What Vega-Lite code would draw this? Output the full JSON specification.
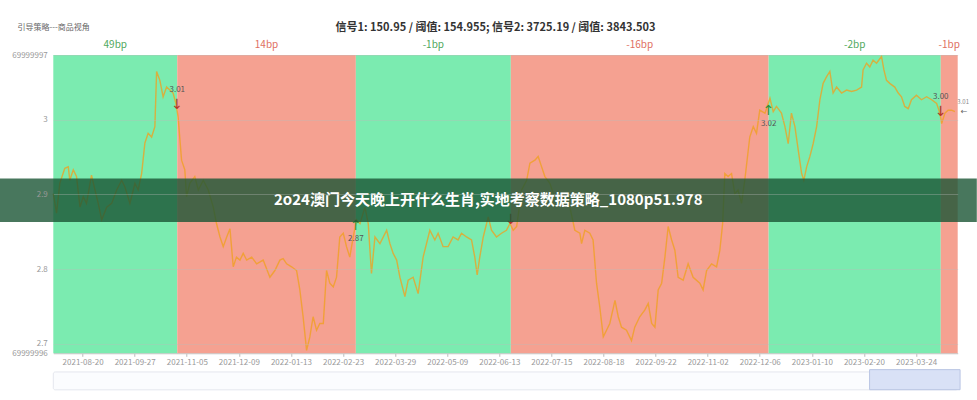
{
  "$schema": "https://vega.github.io/schema/vega-lite/v6.json",
  "width": 904.4,
  "height": 298.3,
  "autosize": {"type": "none"},
  "padding": {"left": 53.3, "top": 55, "right": 19.3, "bottom": 46.7},
  "background": "#ffffff",
  "config": {"view": {"stroke": null}, "font": "Noto Sans CJK SC"},
  "title": {
    "text": "信号1: 150.95 / 阈值: 154.955; 信号2: 3725.19 / 阈值: 3843.503",
    "anchor": "middle", "frame": "group", "fontSize": 11, "fontWeight": "bold",
    "color": "#333333", "offset": -10, "dx": -10, "font": "Noto Sans CJK SC"
  },
  "datasets": {
    "bands": [
      {"start": -13.5, "end": 43.6, "label": "49bp", "kind": "up"},
      {"start": 43.6, "end": 125.9, "label": "14bp", "kind": "down"},
      {"start": 125.9, "end": 197.3, "label": "-1bp", "kind": "up"},
      {"start": 197.3, "end": 316.1, "label": "-16bp", "kind": "down"},
      {"start": 316.1, "end": 395.4, "label": "-2bp", "kind": "up"},
      {"start": 395.4, "end": 403.2, "label": "-1bp", "kind": "down"}
    ],
    "signals": [
      {"t": 43.6, "v": 3.015, "label": "3.01", "side": "sell"},
      {"t": 125.9, "v": 2.866, "label": "2.87", "side": "buy"},
      {"t": 197.3, "v": 2.86, "label": null, "side": "sell"},
      {"t": 316.1, "v": 3.02, "label": "3.02", "side": "buy"},
      {"t": 395.4, "v": 3.005, "label": "3.00", "side": "sell"}
    ],
    "last": [{"t": 403.2, "v": 3.0105, "label": "3.01"}],
    "series": [
      {"t":-13.5,"v":2.901},{"t":-12.0,"v":2.875},{"t":-10.5,"v":2.915},{"t":-8.2,"v":2.935},{"t":-6.6,"v":2.937},
      {"t":-5.9,"v":2.919},{"t":-4.3,"v":2.933},{"t":-2.8,"v":2.924},{"t":-1.2,"v":2.883},{"t":0.3,"v":2.897},
      {"t":1.8,"v":2.888},{"t":4.1,"v":2.926},{"t":5.7,"v":2.906},{"t":7.2,"v":2.888},{"t":8.8,"v":2.866},
      {"t":11.1,"v":2.883},{"t":13.4,"v":2.888},{"t":15.7,"v":2.906},{"t":18.0,"v":2.919},{"t":19.5,"v":2.91},
      {"t":21.8,"v":2.888},{"t":24.1,"v":2.915},{"t":25.6,"v":2.906},{"t":27.2,"v":2.928},{"t":28.7,"v":2.969},
      {"t":30.2,"v":2.982},{"t":31.8,"v":2.977},{"t":33.3,"v":2.991},{"t":34.1,"v":3.065},{"t":35.6,"v":3.053},
      {"t":37.1,"v":3.031},{"t":38.7,"v":3.044},{"t":40.2,"v":3.04},{"t":41.7,"v":3.036},{"t":43.0,"v":3.022},
      {"t":44.0,"v":3.004},{"t":45.6,"v":2.946},{"t":47.1,"v":2.933},{"t":47.9,"v":2.897},{"t":49.4,"v":2.915},
      {"t":51.7,"v":2.924},{"t":53.3,"v":2.906},{"t":55.6,"v":2.919},{"t":57.9,"v":2.906},{"t":60.2,"v":2.883},
      {"t":61.7,"v":2.861},{"t":63.3,"v":2.843},{"t":64.8,"v":2.83},{"t":66.4,"v":2.843},{"t":67.9,"v":2.854},
      {"t":69.4,"v":2.803},{"t":70.9,"v":2.816},{"t":72.5,"v":2.812},{"t":74.0,"v":2.821},{"t":75.6,"v":2.812},
      {"t":77.9,"v":2.816},{"t":80.2,"v":2.807},{"t":83.2,"v":2.812},{"t":86.3,"v":2.789},{"t":88.6,"v":2.798},
      {"t":90.9,"v":2.812},{"t":92.4,"v":2.814},{"t":94.0,"v":2.807},{"t":96.3,"v":2.803},{"t":98.6,"v":2.798},
      {"t":100.1,"v":2.772},{"t":101.6,"v":2.736},{"t":103.2,"v":2.691},{"t":104.7,"v":2.709},{"t":106.2,"v":2.736},
      {"t":107.8,"v":2.718},{"t":109.3,"v":2.727},{"t":110.9,"v":2.727},{"t":112.4,"v":2.798},{"t":113.9,"v":2.781},
      {"t":115.5,"v":2.776},{"t":117.0,"v":2.789},{"t":118.5,"v":2.843},{"t":120.1,"v":2.848},{"t":121.6,"v":2.83},
      {"t":123.1,"v":2.816},{"t":124.7,"v":2.843},{"t":126.2,"v":2.866},{"t":127.8,"v":2.861},{"t":130.1,"v":2.883},
      {"t":131.6,"v":2.861},{"t":133.1,"v":2.794},{"t":134.7,"v":2.843},{"t":137.0,"v":2.834},{"t":140.1,"v":2.852},
      {"t":141.6,"v":2.834},{"t":143.1,"v":2.821},{"t":144.7,"v":2.812},{"t":146.2,"v":2.789},{"t":148.5,"v":2.763},
      {"t":150.0,"v":2.785},{"t":152.3,"v":2.789},{"t":154.6,"v":2.767},{"t":156.9,"v":2.816},{"t":160.0,"v":2.852},
      {"t":162.3,"v":2.839},{"t":163.8,"v":2.848},{"t":166.1,"v":2.83},{"t":168.4,"v":2.83},{"t":170.7,"v":2.843},
      {"t":173.0,"v":2.839},{"t":174.6,"v":2.848},{"t":176.9,"v":2.843},{"t":179.2,"v":2.839},{"t":180.7,"v":2.816},
      {"t":181.8,"v":2.792},{"t":183.0,"v":2.816},{"t":184.6,"v":2.843},{"t":186.9,"v":2.87},{"t":188.4,"v":2.852},
      {"t":190.7,"v":2.843},{"t":193.0,"v":2.848},{"t":195.3,"v":2.852},{"t":196.9,"v":2.861},{"t":198.4,"v":2.852},
      {"t":200.0,"v":2.857},{"t":202.3,"v":2.906},{"t":204.6,"v":2.919},{"t":206.1,"v":2.942},{"t":208.4,"v":2.946},
      {"t":209.9,"v":2.951},{"t":211.5,"v":2.937},{"t":213.0,"v":2.924},{"t":215.3,"v":2.915},{"t":217.6,"v":2.895},
      {"t":219.9,"v":2.899},{"t":222.2,"v":2.892},{"t":224.5,"v":2.883},{"t":226.8,"v":2.852},{"t":229.1,"v":2.848},
      {"t":229.9,"v":2.834},{"t":231.4,"v":2.852},{"t":233.7,"v":2.848},{"t":235.2,"v":2.839},{"t":236.8,"v":2.781},
      {"t":238.3,"v":2.749},{"t":239.9,"v":2.709},{"t":241.4,"v":2.718},{"t":242.9,"v":2.727},{"t":245.3,"v":2.758},
      {"t":246.8,"v":2.736},{"t":248.3,"v":2.722},{"t":250.6,"v":2.718},{"t":252.9,"v":2.704},{"t":254.4,"v":2.722},
      {"t":256.7,"v":2.736},{"t":259.0,"v":2.745},{"t":260.6,"v":2.754},{"t":262.2,"v":2.727},{"t":263.7,"v":2.722},
      {"t":265.2,"v":2.772},{"t":266.8,"v":2.781},{"t":268.3,"v":2.816},{"t":269.8,"v":2.857},{"t":271.4,"v":2.839},
      {"t":272.9,"v":2.825},{"t":274.4,"v":2.789},{"t":276.7,"v":2.785},{"t":279.0,"v":2.807},{"t":281.3,"v":2.789},
      {"t":284.4,"v":2.781},{"t":285.9,"v":2.772},{"t":287.5,"v":2.798},{"t":289.8,"v":2.807},{"t":292.1,"v":2.803},
      {"t":293.6,"v":2.825},{"t":294.9,"v":2.861},{"t":295.9,"v":2.928},{"t":297.4,"v":2.924},{"t":299.0,"v":2.928},
      {"t":300.5,"v":2.901},{"t":302.0,"v":2.906},{"t":303.6,"v":2.888},{"t":305.1,"v":2.919},{"t":307.4,"v":2.977},
      {"t":309.0,"v":2.991},{"t":310.5,"v":2.982},{"t":312.0,"v":3.013},{"t":314.4,"v":3.009},{"t":316.7,"v":3.029},
      {"t":318.2,"v":3.011},{"t":319.7,"v":3.018},{"t":322.0,"v":3.009},{"t":323.6,"v":2.991},{"t":325.1,"v":2.968},
      {"t":326.6,"v":3.009},{"t":328.2,"v":2.991},{"t":329.7,"v":2.96},{"t":331.3,"v":2.928},{"t":332.3,"v":2.919},
      {"t":333.6,"v":2.937},{"t":335.1,"v":2.951},{"t":336.6,"v":2.968},{"t":338.2,"v":2.991},{"t":339.7,"v":3.027},
      {"t":341.2,"v":3.049},{"t":342.8,"v":3.058},{"t":344.3,"v":3.065},{"t":345.8,"v":3.036},{"t":347.4,"v":3.044},
      {"t":349.7,"v":3.036},{"t":352.0,"v":3.04},{"t":354.3,"v":3.038},{"t":356.6,"v":3.04},{"t":358.9,"v":3.044},
      {"t":359.6,"v":3.067},{"t":361.2,"v":3.076},{"t":362.7,"v":3.071},{"t":364.2,"v":3.08},{"t":365.8,"v":3.076},
      {"t":368.1,"v":3.085},{"t":369.2,"v":3.067},{"t":370.4,"v":3.053},{"t":371.9,"v":3.049},{"t":374.2,"v":3.044},
      {"t":375.8,"v":3.036},{"t":377.3,"v":3.031},{"t":378.8,"v":3.018},{"t":380.4,"v":3.015},{"t":381.9,"v":3.027},
      {"t":384.2,"v":3.033},{"t":386.5,"v":3.027},{"t":388.9,"v":3.031},{"t":391.2,"v":3.027},{"t":393.5,"v":3.022},
      {"t":395.0,"v":3.009},{"t":395.8,"v":2.995},{"t":397.3,"v":3.009},{"t":398.8,"v":3.013},{"t":400.4,"v":3.013},
      {"t":401.9,"v":3.011}
    ]
  },
  "layer": [
    {
      "data": {"name": "bands"},
      "mark": {"type": "rect"},
      "encoding": {
        "x": {"field": "start", "type": "quantitative",
          "scale": {"domain": [-13.5, 403.2], "nice": false, "zero": false},
          "axis": {
            "values": [0, 24, 48, 72, 96, 120, 144, 168, 192, 216, 240, 264, 288, 312, 336, 360, 384],
            "labelExpr": "['2021-08-20','2021-09-27','2021-11-05','2021-12-09','2022-01-13','2022-02-23','2022-03-29','2022-05-09','2022-06-13','2022-07-15','2022-08-18','2022-09-22','2022-11-02','2022-12-06','2023-01-10','2023-02-20','2023-03-24'][round(datum.value/24)]",
            "title": null, "grid": false, "domainColor": "#cccccc", "tickColor": "#bbbbbb", "tickSize": 3,
            "labelFontSize": 8, "labelColor": "#999999", "labelPadding": 2, "labelOverlap": false, "labelFlush": false
          }},
        "x2": {"field": "end"},
        "color": {"condition": {"test": "datum.kind == 'up'", "value": "#7BEBB0"}, "value": "#F5A191"}
      }
    },
    {
      "data": {"name": "bands"},
      "transform": [{"calculate": "(datum.start + datum.end) / 2", "as": "mid"}],
      "mark": {"type": "text", "fontSize": 10, "baseline": "middle"},
      "encoding": {
        "x": {"field": "mid", "type": "quantitative",
          "scale": {"domain": [-13.5, 403.2], "nice": false, "zero": false}},
        "y": {"datum": 3.1, "type": "quantitative",
          "scale": {"domain": [2.687, 3.087], "nice": false, "zero": false}},
        "text": {"field": "label"},
        "color": {"condition": {"test": "datum.kind == 'up'", "value": "#4FA85C"}, "value": "#E0705F"}
      }
    },
    {
      "data": {"name": "series"},
      "mark": {"type": "line", "color": "#F0A020", "opacity": 0.78, "strokeWidth": 1.4},
      "encoding": {
        "x": {"field": "t", "type": "quantitative",
          "scale": {"domain": [-13.5, 403.2], "nice": false, "zero": false}},
        "y": {"field": "v", "type": "quantitative",
          "scale": {"domain": [2.687, 3.087], "nice": false, "zero": false},
          "axis": {
            "values": [2.687, 2.7, 2.8, 2.9, 3, 3.087],
            "labelExpr": "datum.value == 2.687 ? '69999996' : datum.value == 3.087 ? '69999997' : '' + datum.value",
            "title": "引导策略---商品视角", "titleAngle": 0, "titleAlign": "left", "titleBaseline": "middle",
            "titleX": -36.3, "titleY": -28, "titleFontSize": 8, "titleFontWeight": "normal", "titleColor": "#666666",
            "domain": false, "ticks": false, "labelFontSize": 8, "labelColor": "#999999", "labelPadding": 6,
            "labelOverlap": false, "labelBound": false, "labelFlush": false,
            "grid": true, "gridColor": "#bbbbbb", "gridOpacity": 0.35, "zindex": 1
          }}
      }
    },
    {
      "data": {"name": "signals"},
      "transform": [{"filter": "datum.side == 'sell'"}],
      "mark": {"type": "text", "text": "↓", "font": "DejaVu Sans", "fontSize": 14, "baseline": "alphabetic", "color": "#B83227"},
      "encoding": {
        "x": {"field": "t", "type": "quantitative", "scale": {"domain": [-13.5, 403.2], "nice": false, "zero": false}},
        "y": {"field": "v", "type": "quantitative", "scale": {"domain": [2.687, 3.087], "nice": false, "zero": false}}
      }
    },
    {
      "data": {"name": "signals"},
      "transform": [{"filter": "datum.side == 'sell' && datum.label != null"}],
      "mark": {"type": "text", "fontSize": 8, "baseline": "middle", "dy": -19, "color": "#555555"},
      "encoding": {
        "x": {"field": "t", "type": "quantitative", "scale": {"domain": [-13.5, 403.2], "nice": false, "zero": false}},
        "y": {"field": "v", "type": "quantitative", "scale": {"domain": [2.687, 3.087], "nice": false, "zero": false}},
        "text": {"field": "label"}
      }
    },
    {
      "data": {"name": "signals"},
      "transform": [{"filter": "datum.side == 'buy'"}],
      "mark": {"type": "text", "text": "↑", "font": "DejaVu Sans", "fontSize": 14, "baseline": "alphabetic", "dy": 10, "color": "#2F8F3A"},
      "encoding": {
        "x": {"field": "t", "type": "quantitative", "scale": {"domain": [-13.5, 403.2], "nice": false, "zero": false}},
        "y": {"field": "v", "type": "quantitative", "scale": {"domain": [2.687, 3.087], "nice": false, "zero": false}}
      }
    },
    {
      "data": {"name": "signals"},
      "transform": [{"filter": "datum.side == 'buy'"}],
      "mark": {"type": "text", "fontSize": 8, "baseline": "middle", "dy": 19, "color": "#555555"},
      "encoding": {
        "x": {"field": "t", "type": "quantitative", "scale": {"domain": [-13.5, 403.2], "nice": false, "zero": false}},
        "y": {"field": "v", "type": "quantitative", "scale": {"domain": [2.687, 3.087], "nice": false, "zero": false}},
        "text": {"field": "label"}
      }
    },
    {
      "data": {"name": "last"},
      "mark": {"type": "text", "fontSize": 6, "baseline": "middle", "dx": 5.5, "dy": -10, "color": "#888888"},
      "encoding": {
        "x": {"field": "t", "type": "quantitative", "scale": {"domain": [-13.5, 403.2], "nice": false, "zero": false}},
        "y": {"field": "v", "type": "quantitative", "scale": {"domain": [2.687, 3.087], "nice": false, "zero": false}},
        "text": {"field": "label"}
      }
    },
    {
      "data": {"name": "last"},
      "mark": {"type": "text", "text": "←", "font": "DejaVu Sans", "fontSize": 8, "baseline": "middle", "dx": 6.5, "color": "#666666"},
      "encoding": {
        "x": {"field": "t", "type": "quantitative", "scale": {"domain": [-13.5, 403.2], "nice": false, "zero": false}},
        "y": {"field": "v", "type": "quantitative", "scale": {"domain": [2.687, 3.087], "nice": false, "zero": false}}
      }
    },
    {
      "data": {"values": [{"part": "track"}]},
      "mark": {"type": "rect", "fill": "#fbfcfe", "stroke": "#e4e7ee", "strokeWidth": 1, "cornerRadius": 2},
      "encoding": {
        "x": {"datum": -13.5, "type": "quantitative", "scale": {"domain": [-13.5, 403.2], "nice": false, "zero": false}},
        "x2": {"datum": 403.2},
        "y": {"datum": 2.662, "type": "quantitative", "scale": {"domain": [2.687, 3.087], "nice": false, "zero": false}},
        "y2": {"datum": 2.638}
      }
    },
    {
      "data": {"values": [{"part": "window"}]},
      "mark": {"type": "rect", "fill": "#d9e1f6", "stroke": "#b9c5e3", "strokeWidth": 1},
      "encoding": {
        "x": {"datum": 362.6, "type": "quantitative", "scale": {"domain": [-13.5, 403.2], "nice": false, "zero": false}},
        "x2": {"datum": 404.3},
        "y": {"datum": 2.6651, "type": "quantitative", "scale": {"domain": [2.687, 3.087], "nice": false, "zero": false}},
        "y2": {"datum": 2.6382}
      }
    },
    {
      "data": {"values": [{"caption": "2o24澳门今天晚上开什么生肖,实地考察数据策略_1080p51.978"}]},
      "mark": {"type": "rect", "fill": "#1A5534", "opacity": 0.8},
      "encoding": {
        "x": {"datum": -38.1, "type": "quantitative", "scale": {"domain": [-13.5, 403.2], "nice": false, "zero": false}},
        "x2": {"datum": 412.0},
        "y": {"datum": 2.9215, "type": "quantitative", "scale": {"domain": [2.687, 3.087], "nice": false, "zero": false}},
        "y2": {"datum": 2.8632}
      }
    },
    {
      "data": {"values": [{"caption": "2o24澳门今天晚上开什么生肖,实地考察数据策略_1080p51.978"}]},
      "mark": {"type": "text", "fontSize": 15, "fontWeight": "bold", "color": "#ffffff", "baseline": "middle", "align": "center"},
      "encoding": {
        "x": {"datum": 186.9, "type": "quantitative", "scale": {"domain": [-13.5, 403.2], "nice": false, "zero": false}},
        "y": {"datum": 2.8923, "type": "quantitative", "scale": {"domain": [2.687, 3.087], "nice": false, "zero": false}},
        "text": {"field": "caption"}
      }
    }
  ]
}
